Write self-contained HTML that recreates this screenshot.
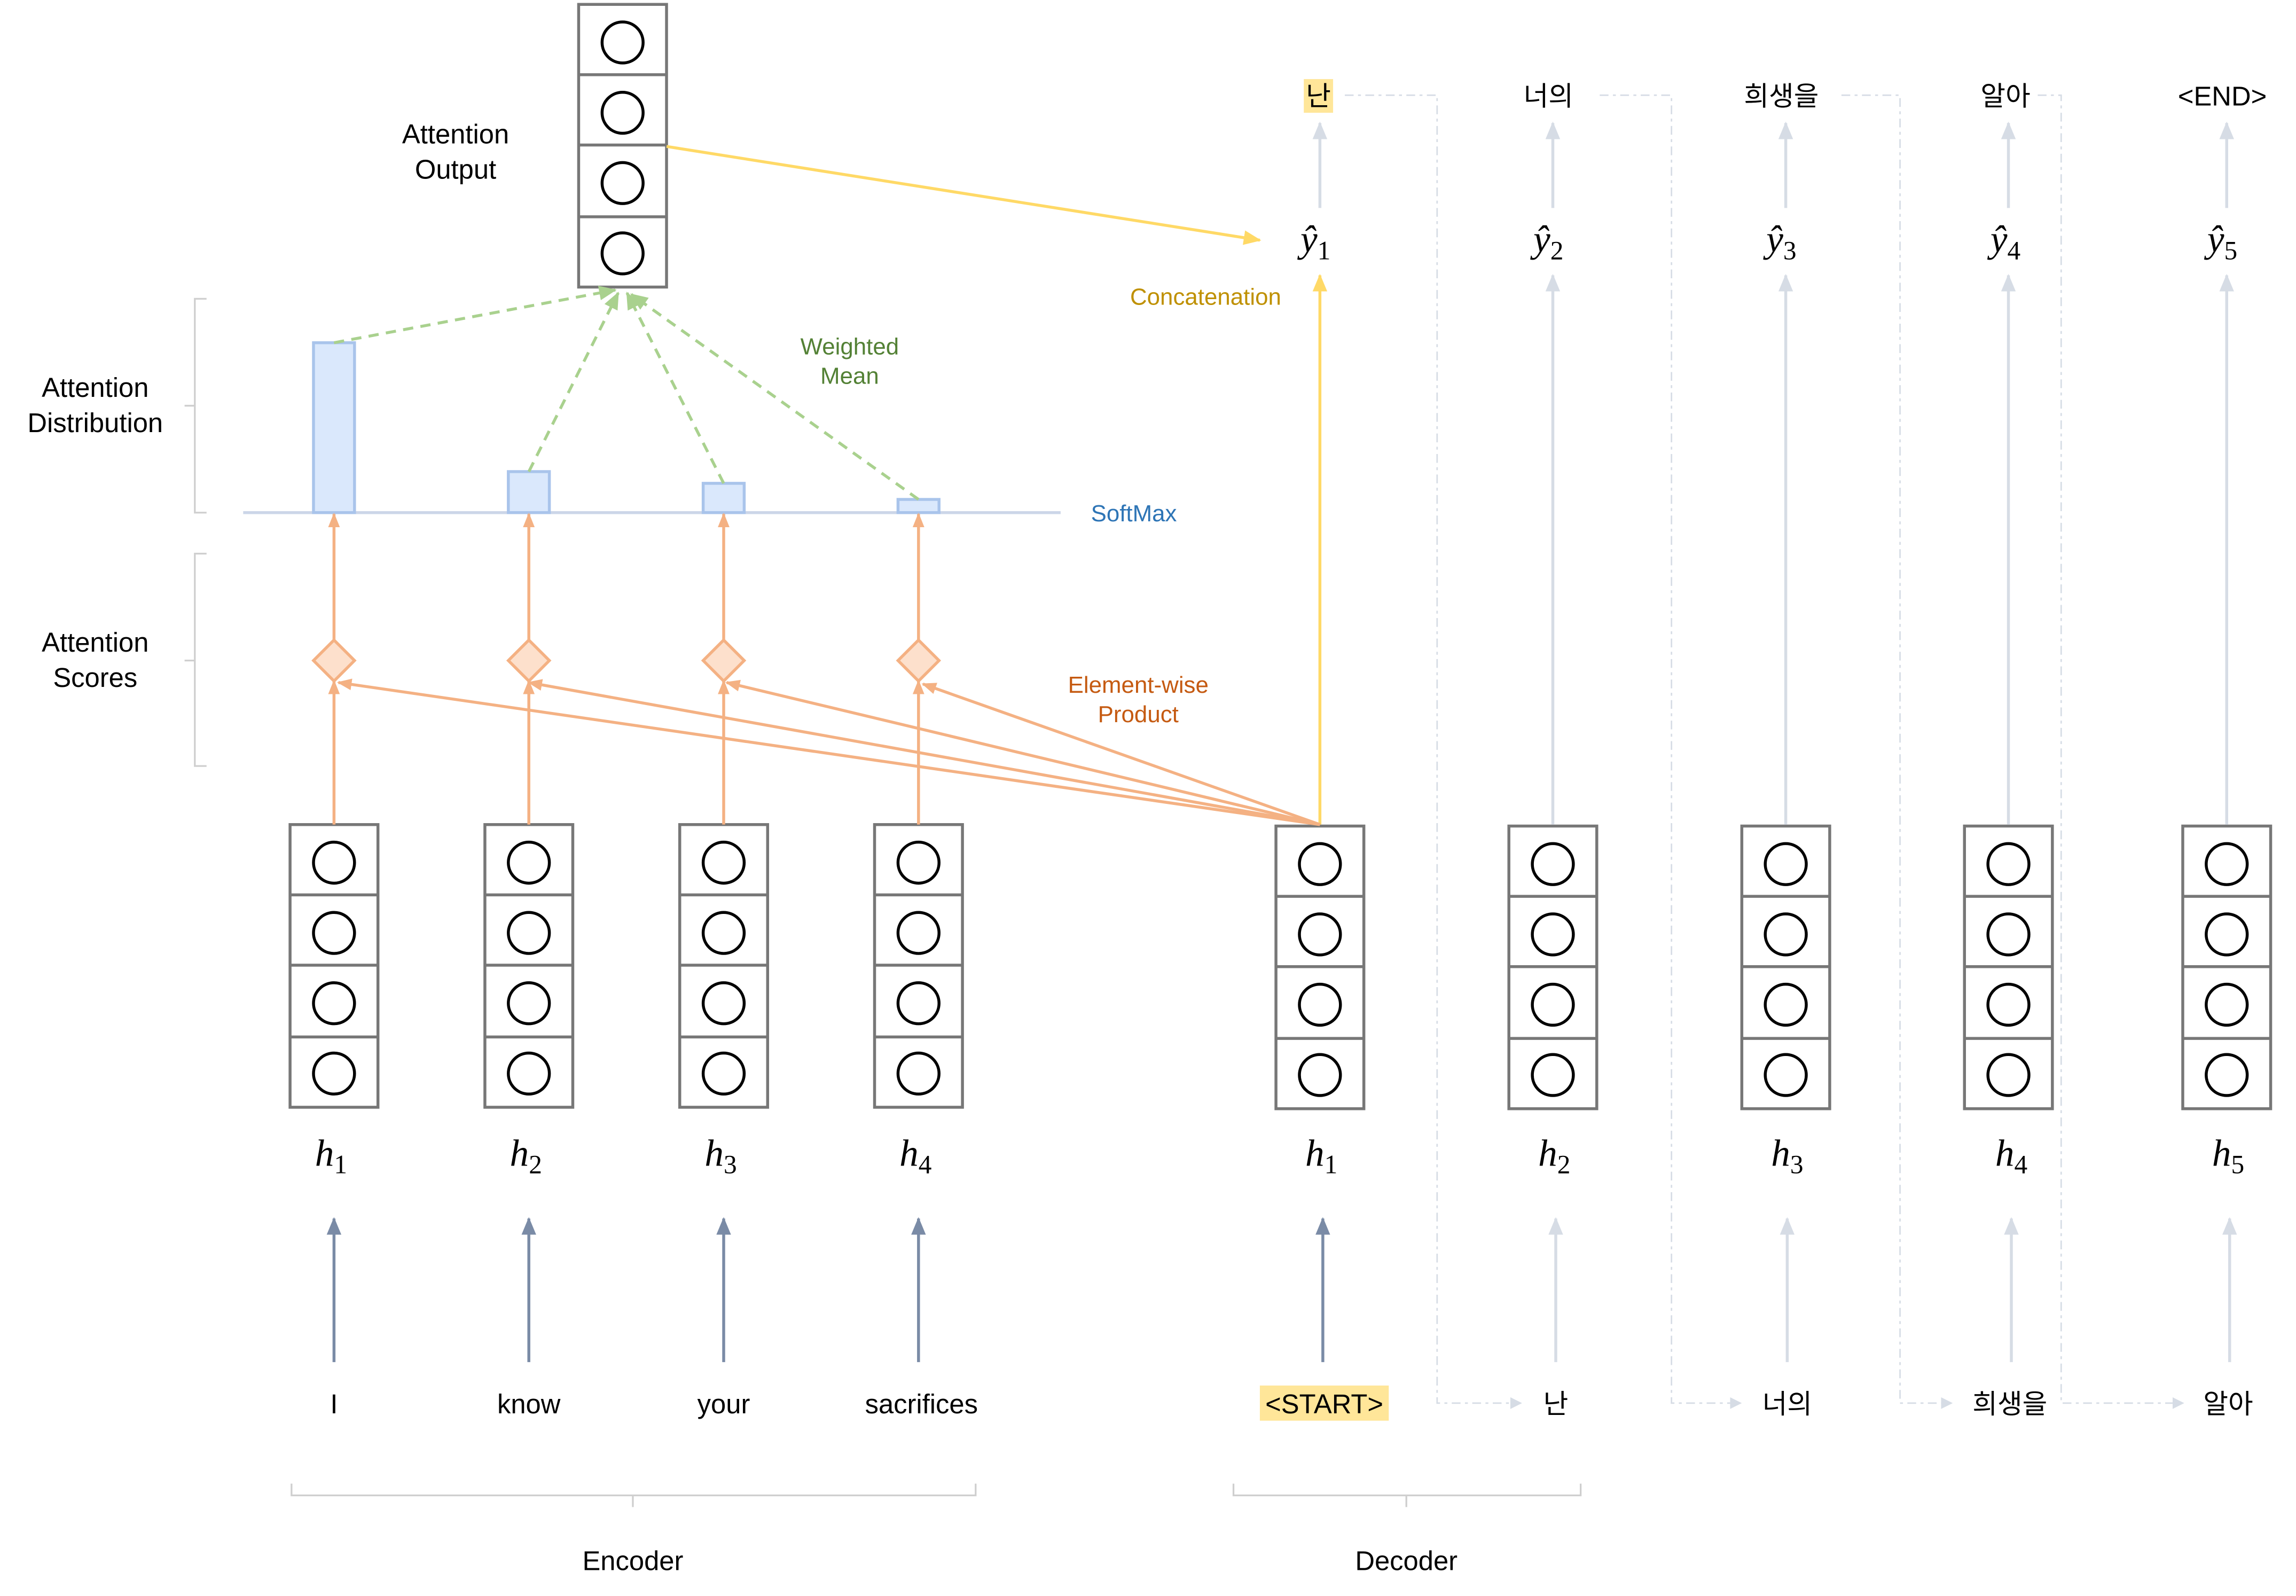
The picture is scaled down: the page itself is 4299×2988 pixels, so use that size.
<!DOCTYPE html>
<html><head><meta charset="utf-8"><style>html,body{margin:0;padding:0;background:#fff}svg{display:block}</style></head>
<body>
<svg width="4299" height="2988" viewBox="0 0 1567.3 1089.7" preserveAspectRatio="none" xmlns="http://www.w3.org/2000/svg" font-family="Liberation Sans, Noto Sans CJK KR, sans-serif">
<defs>
<marker id="ao" markerWidth="10" markerHeight="10" refX="9" refY="5" orient="auto" markerUnits="userSpaceOnUse"><path d="M0,1 L10,5 L0,9 Z" fill="#f4b183"/></marker>
<marker id="ay" markerWidth="12" markerHeight="10" refX="11" refY="5" orient="auto" markerUnits="userSpaceOnUse"><path d="M0,0 L12,5 L0,10 Z" fill="#ffd966"/></marker>
<marker id="ag" markerWidth="12" markerHeight="10" refX="11" refY="5" orient="auto" markerUnits="userSpaceOnUse"><path d="M0,0 L12,5 L0,10 Z" fill="#d6dce5"/></marker>
<marker id="ab" markerWidth="12" markerHeight="10" refX="11" refY="5" orient="auto" markerUnits="userSpaceOnUse"><path d="M0,0 L12,5 L0,10 Z" fill="#7a8ba6"/></marker>
<marker id="agr" markerWidth="12" markerHeight="10" refX="11" refY="5" orient="auto" markerUnits="userSpaceOnUse"><path d="M0,0 L12,5 L0,10 Z" fill="#a9d18e"/></marker>
<marker id="as" markerWidth="8" markerHeight="8" refX="7" refY="4" orient="auto" markerUnits="userSpaceOnUse"><path d="M0,0 L8,4 L0,8 Z" fill="#d6dce5"/></marker>
</defs>

<g fill="#fff">
<g transform="translate(198,563)"><rect width="60" height="193" stroke="#777" stroke-width="2"/><g stroke="#777" stroke-width="2"><line x1="0" y1="48" x2="60" y2="48"/><line x1="0" y1="96" x2="60" y2="96"/><line x1="0" y1="145" x2="60" y2="145"/></g><g stroke="#000" stroke-width="2"><circle cx="30" cy="26" r="14"/><circle cx="30" cy="74" r="14"/><circle cx="30" cy="122" r="14"/><circle cx="30" cy="170" r="14"/></g></g>
<g transform="translate(331,563)"><rect width="60" height="193" stroke="#777" stroke-width="2"/><g stroke="#777" stroke-width="2"><line x1="0" y1="48" x2="60" y2="48"/><line x1="0" y1="96" x2="60" y2="96"/><line x1="0" y1="145" x2="60" y2="145"/></g><g stroke="#000" stroke-width="2"><circle cx="30" cy="26" r="14"/><circle cx="30" cy="74" r="14"/><circle cx="30" cy="122" r="14"/><circle cx="30" cy="170" r="14"/></g></g>
<g transform="translate(464,563)"><rect width="60" height="193" stroke="#777" stroke-width="2"/><g stroke="#777" stroke-width="2"><line x1="0" y1="48" x2="60" y2="48"/><line x1="0" y1="96" x2="60" y2="96"/><line x1="0" y1="145" x2="60" y2="145"/></g><g stroke="#000" stroke-width="2"><circle cx="30" cy="26" r="14"/><circle cx="30" cy="74" r="14"/><circle cx="30" cy="122" r="14"/><circle cx="30" cy="170" r="14"/></g></g>
<g transform="translate(597,563)"><rect width="60" height="193" stroke="#777" stroke-width="2"/><g stroke="#777" stroke-width="2"><line x1="0" y1="48" x2="60" y2="48"/><line x1="0" y1="96" x2="60" y2="96"/><line x1="0" y1="145" x2="60" y2="145"/></g><g stroke="#000" stroke-width="2"><circle cx="30" cy="26" r="14"/><circle cx="30" cy="74" r="14"/><circle cx="30" cy="122" r="14"/><circle cx="30" cy="170" r="14"/></g></g>
<g transform="translate(871,564)"><rect width="60" height="193" stroke="#777" stroke-width="2"/><g stroke="#777" stroke-width="2"><line x1="0" y1="48" x2="60" y2="48"/><line x1="0" y1="96" x2="60" y2="96"/><line x1="0" y1="145" x2="60" y2="145"/></g><g stroke="#000" stroke-width="2"><circle cx="30" cy="26" r="14"/><circle cx="30" cy="74" r="14"/><circle cx="30" cy="122" r="14"/><circle cx="30" cy="170" r="14"/></g></g>
<g transform="translate(1030,564)"><rect width="60" height="193" stroke="#777" stroke-width="2"/><g stroke="#777" stroke-width="2"><line x1="0" y1="48" x2="60" y2="48"/><line x1="0" y1="96" x2="60" y2="96"/><line x1="0" y1="145" x2="60" y2="145"/></g><g stroke="#000" stroke-width="2"><circle cx="30" cy="26" r="14"/><circle cx="30" cy="74" r="14"/><circle cx="30" cy="122" r="14"/><circle cx="30" cy="170" r="14"/></g></g>
<g transform="translate(1189,564)"><rect width="60" height="193" stroke="#777" stroke-width="2"/><g stroke="#777" stroke-width="2"><line x1="0" y1="48" x2="60" y2="48"/><line x1="0" y1="96" x2="60" y2="96"/><line x1="0" y1="145" x2="60" y2="145"/></g><g stroke="#000" stroke-width="2"><circle cx="30" cy="26" r="14"/><circle cx="30" cy="74" r="14"/><circle cx="30" cy="122" r="14"/><circle cx="30" cy="170" r="14"/></g></g>
<g transform="translate(1341,564)"><rect width="60" height="193" stroke="#777" stroke-width="2"/><g stroke="#777" stroke-width="2"><line x1="0" y1="48" x2="60" y2="48"/><line x1="0" y1="96" x2="60" y2="96"/><line x1="0" y1="145" x2="60" y2="145"/></g><g stroke="#000" stroke-width="2"><circle cx="30" cy="26" r="14"/><circle cx="30" cy="74" r="14"/><circle cx="30" cy="122" r="14"/><circle cx="30" cy="170" r="14"/></g></g>
<g transform="translate(1490,564)"><rect width="60" height="193" stroke="#777" stroke-width="2"/><g stroke="#777" stroke-width="2"><line x1="0" y1="48" x2="60" y2="48"/><line x1="0" y1="96" x2="60" y2="96"/><line x1="0" y1="145" x2="60" y2="145"/></g><g stroke="#000" stroke-width="2"><circle cx="30" cy="26" r="14"/><circle cx="30" cy="74" r="14"/><circle cx="30" cy="122" r="14"/><circle cx="30" cy="170" r="14"/></g></g>
<g transform="translate(395,3)"><rect width="60" height="193" stroke="#777" stroke-width="2"/><g stroke="#777" stroke-width="2"><line x1="0" y1="48" x2="60" y2="48"/><line x1="0" y1="96" x2="60" y2="96"/><line x1="0" y1="145" x2="60" y2="145"/></g><g stroke="#000" stroke-width="2"><circle cx="30" cy="26" r="14"/><circle cx="30" cy="74" r="14"/><circle cx="30" cy="122" r="14"/><circle cx="30" cy="170" r="14"/></g></g>
</g>

<g fill="none" stroke="#d6dce5" stroke-width="1" stroke-dasharray="6,3,2,3">
<polyline points="918,65 981,65 981,958 1038,958" marker-end="url(#as)"/>
<polyline points="1092,65 1141,65 1141,958 1188,958" marker-end="url(#as)"/>
<polyline points="1257,65 1297,65 1297,958 1332,958" marker-end="url(#as)"/>
<polyline points="1391,65 1407,65 1407,958 1490,958" marker-end="url(#as)"/>
</g>

<g stroke="#d6dce5" stroke-width="2" fill="none" marker-end="url(#ag)">
<line x1="901" y1="142" x2="901" y2="84"/>
<line x1="1060" y1="142" x2="1060" y2="84"/>
<line x1="1219" y1="142" x2="1219" y2="84"/>
<line x1="1371" y1="142" x2="1371" y2="84"/>
<line x1="1520" y1="142" x2="1520" y2="84"/>
<line x1="1060" y1="563" x2="1060" y2="188"/>
<line x1="1219" y1="563" x2="1219" y2="188"/>
<line x1="1371" y1="563" x2="1371" y2="188"/>
<line x1="1520" y1="563" x2="1520" y2="188"/>
<line x1="1062" y1="930" x2="1062" y2="832"/>
<line x1="1220" y1="930" x2="1220" y2="832"/>
<line x1="1373" y1="930" x2="1373" y2="832"/>
<line x1="1522" y1="930" x2="1522" y2="832"/>
</g>
<g stroke="#7a8ba6" stroke-width="2" fill="none" marker-end="url(#ab)">
<line x1="228" y1="930" x2="228" y2="832"/>
<line x1="361" y1="930" x2="361" y2="832"/>
<line x1="494" y1="930" x2="494" y2="832"/>
<line x1="627" y1="930" x2="627" y2="832"/>
<line x1="903" y1="930" x2="903" y2="832"/>
</g>

<g stroke="#ffd966" stroke-width="2" fill="none" marker-end="url(#ay)">
<line x1="901" y1="563" x2="901" y2="188"/>
<line x1="455" y1="100" x2="860" y2="164"/>
</g>

<line x1="166" y1="350" x2="724" y2="350" stroke="#ccd6e8" stroke-width="2"/>
<g fill="#dae8fc" stroke="#a9c4eb" stroke-width="2">
<rect x="214" y="234" width="28" height="116"/>
<rect x="347" y="322" width="28" height="28"/>
<rect x="480" y="330" width="28" height="20"/>
<rect x="613" y="341" width="28" height="9"/>
</g>

<g stroke="#a9d18e" stroke-width="2" fill="none" stroke-dasharray="7,5" marker-end="url(#agr)">
<line x1="228" y1="234" x2="420" y2="198"/>
<line x1="361" y1="322" x2="422" y2="200"/>
<line x1="494" y1="330" x2="428" y2="200"/>
<line x1="627" y1="341" x2="431" y2="201"/>
</g>

<g stroke="#f4b183" stroke-width="2" fill="none" marker-end="url(#ao)">
<line x1="228" y1="563" x2="228" y2="465"/>
<line x1="361" y1="563" x2="361" y2="465"/>
<line x1="494" y1="563" x2="494" y2="465"/>
<line x1="627" y1="563" x2="627" y2="465"/>
<line x1="228" y1="437" x2="228" y2="351"/>
<line x1="361" y1="437" x2="361" y2="351"/>
<line x1="494" y1="437" x2="494" y2="351"/>
<line x1="627" y1="437" x2="627" y2="351"/>
<line x1="901" y1="563" x2="231" y2="466"/>
<line x1="901" y1="563" x2="361" y2="466"/>
<line x1="901" y1="563" x2="496" y2="466"/>
<line x1="901" y1="563" x2="630" y2="467"/>
</g>
<g fill="#fde0cc" stroke="#f4b183" stroke-width="2">
<path d="M228,437 L242,451 L228,465 L214,451 Z"/>
<path d="M361,437 L375,451 L361,465 L347,451 Z"/>
<path d="M494,437 L508,451 L494,465 L480,451 Z"/>
<path d="M627,437 L641,451 L627,465 L613,451 Z"/>
</g>

<g stroke="#cfcfcf" stroke-width="1.2" fill="none">
<path d="M141,204 L133,204 L133,350 L141,350 M133,277 L126,277"/>
<path d="M141,378 L133,378 L133,523 L141,523 M133,451 L126,451"/>
<path d="M199,1013 L199,1021 L666,1021 L666,1013 M432,1021 L432,1029"/>
<path d="M842,1013 L842,1021 L1079,1021 L1079,1013 M960,1021 L960,1029"/>
</g>

<rect x="890" y="54" width="20" height="23" fill="#ffe699"/>
<rect x="860" y="946" width="88" height="24" fill="#ffe699"/>

<g font-size="18.5" fill="#000" text-anchor="middle">
<text x="311" y="98">Attention</text><text x="311" y="122">Output</text>
<text x="65" y="271">Attention</text><text x="65" y="295">Distribution</text>
<text x="65" y="445">Attention</text><text x="65" y="469">Scores</text>
<text x="228" y="965">I</text><text x="361" y="965">know</text><text x="494" y="965">your</text><text x="629" y="965">sacrifices</text>
<text x="904" y="965">&lt;START&gt;</text>
<text x="1062" y="965">난</text><text x="1220" y="965">너의</text><text x="1372" y="965">희생을</text><text x="1521" y="965">알아</text>
<text x="900" y="72">난</text><text x="1057" y="72">너의</text><text x="1216" y="72">희생을</text><text x="1369" y="72">알아</text><text x="1517" y="72">&lt;END&gt;</text>
<text x="432" y="1072">Encoder</text><text x="960" y="1072">Decoder</text>
</g>
<g font-size="16" text-anchor="middle">
<text x="823" y="208" fill="#bf9000">Concatenation</text>
<text x="580" y="242" fill="#538135">Weighted</text><text x="580" y="262" fill="#538135">Mean</text>
<text x="774" y="356" fill="#2e75b6">SoftMax</text>
<text x="777" y="473" fill="#c55a11">Element-wise</text><text x="777" y="493" fill="#c55a11">Product</text>
</g>
<g font-family="Liberation Serif, serif" font-style="italic" font-size="26" fill="#000" text-anchor="middle">
<text x="226" y="796">h<tspan font-size="18" dy="5" font-style="normal">1</tspan></text>
<text x="359" y="796">h<tspan font-size="18" dy="5" font-style="normal">2</tspan></text>
<text x="492" y="796">h<tspan font-size="18" dy="5" font-style="normal">3</tspan></text>
<text x="625" y="796">h<tspan font-size="18" dy="5" font-style="normal">4</tspan></text>
<text x="902" y="796">h<tspan font-size="18" dy="5" font-style="normal">1</tspan></text>
<text x="1061" y="796">h<tspan font-size="18" dy="5" font-style="normal">2</tspan></text>
<text x="1220" y="796">h<tspan font-size="18" dy="5" font-style="normal">3</tspan></text>
<text x="1373" y="796">h<tspan font-size="18" dy="5" font-style="normal">4</tspan></text>
<text x="1521" y="796">h<tspan font-size="18" dy="5" font-style="normal">5</tspan></text>
<text x="898" y="172">ŷ<tspan font-size="18" dy="5" font-style="normal">1</tspan></text>
<text x="1057" y="172">ŷ<tspan font-size="18" dy="5" font-style="normal">2</tspan></text>
<text x="1216" y="172">ŷ<tspan font-size="18" dy="5" font-style="normal">3</tspan></text>
<text x="1369" y="172">ŷ<tspan font-size="18" dy="5" font-style="normal">4</tspan></text>
<text x="1517" y="172">ŷ<tspan font-size="18" dy="5" font-style="normal">5</tspan></text>
</g>
</svg>
</body></html>
